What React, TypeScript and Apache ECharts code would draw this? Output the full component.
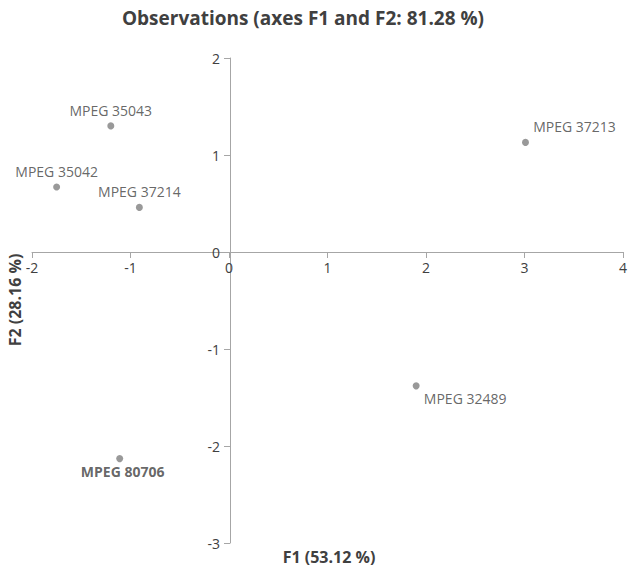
import React, { useEffect, useRef } from "react";
import * as echarts from "echarts";

const names = ["MPEG 35043", "MPEG 35042", "MPEG 37214", "MPEG 37213", "MPEG 32489", "MPEG 80706"];
const f1 = [-1.2, -1.75, -0.91, 3.01, 1.9, -1.11];
const f2 = [1.3, 0.67, 0.46, 1.13, -1.38, -2.13];
const xTicks = [-2, -1, 0, 1, 2, 3, 4];
const yTicks = [-3, -2, -1, 0, 1, 2];

const FONT = "'Open Sans', sans-serif";
const TEXT = "#404040";
const AXIS = "#a6a6a6";

const W = 630;
const H = 571;
const GRID = { left: 32, right: 4, top: 58, bottom: 28 };

export default function App() {
  const ref = useRef<HTMLDivElement>(null);
  useEffect(() => {
    if (!ref.current) return;
    const chart = echarts.init(ref.current, undefined, { renderer: "svg" });
    const labelCfg: any[] = [
      { position: "top", distance: 5 },
      { position: "top", distance: 5 },
      { position: "top", distance: 5 },
      { position: "top", distance: 5, offset: [49, 0] },
      { position: "bottom", distance: 2, offset: [49, 0] },
      { position: "bottom", distance: 2, offset: [3, 0], fontWeight: "bold" },
    ];
    const data = names.map((n, i) => ({
      name: n,
      value: [f1[i], f2[i]],
      label: { show: true, formatter: "{b}", ...labelCfg[i] },
    }));
    const xMin = xTicks[0], xMax = xTicks[xTicks.length - 1];
    const yMin = yTicks[0], yMax = yTicks[yTicks.length - 1];
    const gw = W - GRID.left - GRID.right;
    const gh = H - GRID.top - GRID.bottom;
    const yAxisOffset = -((0 - xMin) / (xMax - xMin)) * gw;
    const xAxisOffset = -((0 - yMin) / (yMax - yMin)) * gh;
    chart.setOption({
      animation: false,
      backgroundColor: "#ffffff",
      textStyle: { fontFamily: FONT },
      graphic: [
        {
          type: "text",
          x: 303,
          y: 18,
          style: {
            text: "Observations (axes F1 and F2: 81.28 %)",
            font: `bold 19px ${FONT}`,
            fill: TEXT,
            align: "center",
            verticalAlign: "middle",
          },
        },
        {
          type: "text",
          x: 329,
          y: 557,
          style: {
            text: "F1 (53.12 %)",
            font: `bold 16px ${FONT}`,
            fill: TEXT,
            align: "center",
            verticalAlign: "middle",
          },
        },
        {
          type: "text",
          x: 15,
          y: 300,
          rotation: Math.PI / 2,
          style: {
            text: "F2 (28.16 %)",
            font: `bold 16px ${FONT}`,
            fill: TEXT,
            align: "center",
            verticalAlign: "middle",
          },
        },
      ],
      grid: { ...GRID, containLabel: false },
      xAxis: {
        type: "value",
        position: "bottom",
        offset: xAxisOffset,
        min: xMin,
        max: xMax,
        interval: 1,
        axisLine: { onZero: false, lineStyle: { color: AXIS, width: 1 } },
        axisTick: { show: true, length: 6, lineStyle: { color: AXIS } },
        axisLabel: {
          color: TEXT, fontSize: 14, fontFamily: FONT, margin: 8,
          showMinLabel: true, showMaxLabel: true,
        },
        splitLine: { show: false },
      },
      yAxis: {
        type: "value",
        position: "left",
        offset: yAxisOffset,
        min: yMin,
        max: yMax,
        interval: 1,
        axisLine: { show: true, onZero: false, lineStyle: { color: AXIS, width: 1 } },
        axisTick: { show: true, length: 6, lineStyle: { color: AXIS } },
        axisLabel: { color: TEXT, fontSize: 14, fontFamily: FONT, margin: 10 },
        splitLine: { show: false },
      },
      series: [
        {
          type: "scatter",
          symbol: "circle",
          symbolSize: 7,
          itemStyle: { color: "#7f7f7f" },
          label: { color: TEXT, fontSize: 14, fontFamily: FONT },
          data,
        },
      ],
    });
    return () => chart.dispose();
  }, []);
  return <div ref={ref} style={{ width: W, height: H, position: "absolute", left: 0, top: 0 }} />;
}
